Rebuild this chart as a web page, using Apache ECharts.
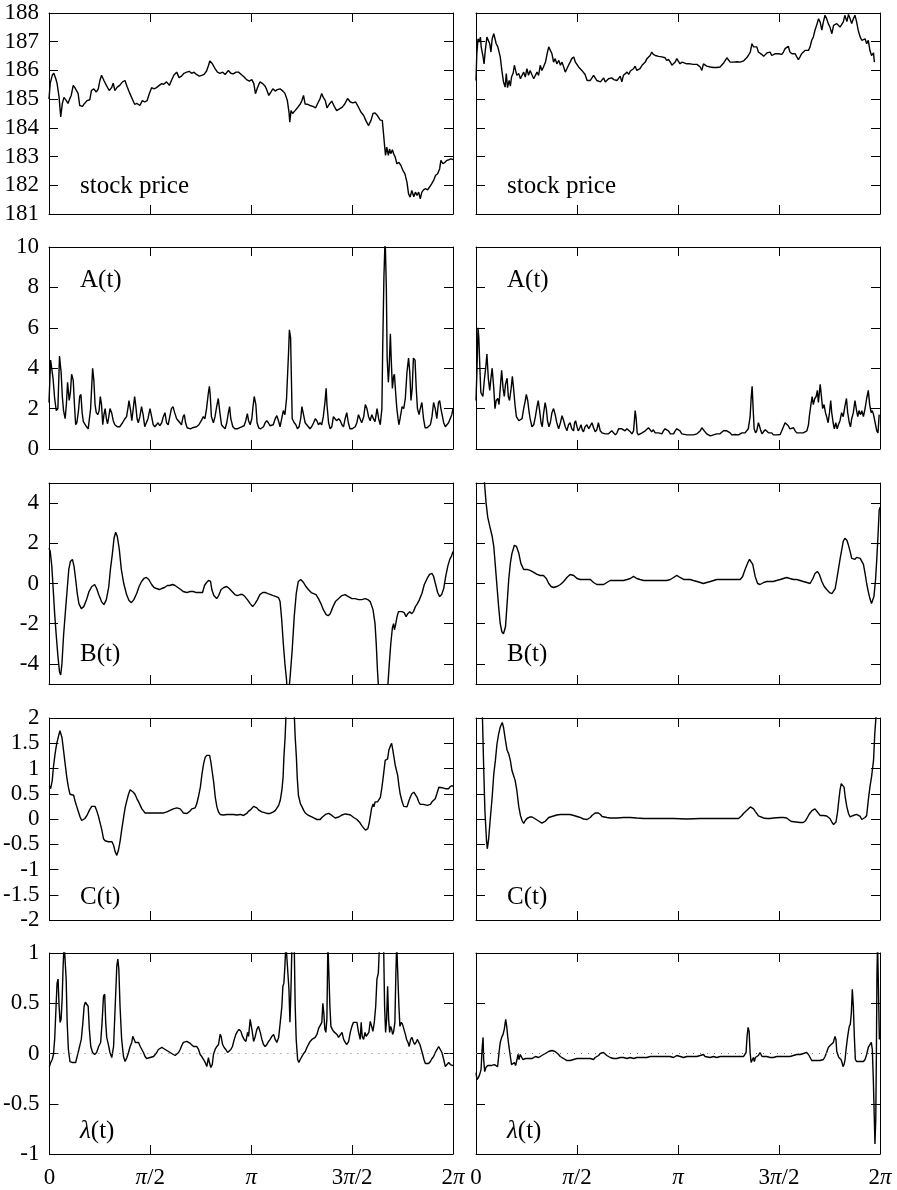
<!DOCTYPE html>
<html><head><meta charset="utf-8">
<script src="https://cdn.jsdelivr.net/npm/echarts@6/dist/echarts.min.js"></script>
<style>html,body{margin:0;padding:0;background:#fff}#c{width:897px;height:1190px}</style>
</head><body><div id="c"></div>
<script>
// x is measured in percent of the period 2π (0..100); tick labels below
const xTickLabels = ['0','{i|π}/2','{i|π}','3{i|π}/2','2{i|π}'];
const bTickValues = [-4,-2,0,2,4];

const stockLeft = [[0,185.0],[0.3,185.55],[0.8,185.83],[1.2,185.9],[1.7,185.7],[2.0,185.55],[2.5,185.06],[2.9,184.38],[3.3,184.85],[3.7,185.06],[4.3,184.95],[4.7,184.85],[5.1,185.0],[5.5,185.13],[6.0,185.48],[6.4,185.4],[6.8,185.42],[7.2,185.2],[7.6,184.78],[8.3,184.75],[8.8,184.85],[9.4,184.95],[10.1,184.98],[10.5,185.3],[11.1,185.36],[11.7,185.25],[12.2,185.36],[12.6,185.65],[13.0,185.83],[13.6,185.65],[14.2,185.48],[14.9,185.3],[15.5,185.4],[15.9,185.56],[16.3,185.3],[16.9,185.42],[17.5,185.48],[18.2,185.6],[18.8,185.65],[19.3,185.45],[20.0,185.2],[20.7,184.98],[21.2,184.82],[21.8,184.85],[22.5,184.78],[23.1,184.95],[23.7,184.9],[24.3,184.95],[24.8,185.18],[25.4,185.4],[26.0,185.36],[26.6,185.4],[27.3,185.48],[27.9,185.54],[28.4,185.52],[29.1,185.6],[29.8,185.48],[30.3,185.65],[30.9,185.83],[31.6,185.94],[32.2,185.75],[32.8,185.8],[33.4,185.9],[34.1,185.94],[34.7,185.97],[35.3,185.9],[35.9,185.94],[36.5,185.86],[37.2,185.8],[37.8,185.83],[38.4,185.86],[39.0,185.98],[39.5,186.18],[39.8,186.33],[40.4,186.24],[41.1,186.06],[41.7,185.94],[42.3,185.9],[43.0,185.94],[43.6,185.86],[44.4,186.0],[45.0,185.9],[45.6,185.88],[46.3,185.94],[46.9,185.94],[47.6,185.86],[48.3,185.77],[48.9,185.68],[49.6,185.63],[50.2,185.68],[50.7,185.54],[51.1,185.19],[51.6,185.4],[52.2,185.6],[52.9,185.54],[53.5,185.45],[53.9,185.33],[54.4,185.13],[54.9,185.24],[55.4,185.36],[56.0,185.28],[56.5,185.33],[57.2,185.36],[57.9,185.28],[58.4,185.2],[59.0,184.95],[59.4,184.55],[59.6,184.2],[59.9,184.6],[60.3,184.5],[60.9,184.6],[61.6,184.72],[62.2,184.83],[62.6,184.95],[63.0,185.13],[63.4,184.83],[64.0,184.82],[64.6,184.78],[65.3,184.75],[66.0,184.7],[66.5,184.85],[67.1,185.02],[67.5,185.2],[67.9,185.06],[68.4,184.95],[68.8,184.7],[69.4,184.83],[70.0,184.93],[70.6,184.75],[71.2,184.6],[71.9,184.66],[72.6,184.72],[73.2,184.83],[73.9,185.02],[74.6,184.9],[75.2,184.87],[75.9,184.9],[76.5,184.75],[77.2,184.55],[77.9,184.43],[78.4,184.26],[79.1,184.08],[79.7,184.26],[80.2,184.5],[80.7,184.52],[81.3,184.43],[82.0,184.27],[82.5,184.26],[82.8,183.8],[83.1,183.33],[83.3,183.04],[83.6,183.33],[84.0,183.04],[84.3,183.27],[84.6,183.1],[85.0,183.24],[85.3,183.1],[85.7,182.98],[86.1,182.75],[86.6,182.8],[87.1,182.69],[87.6,182.52],[88.1,182.4],[88.6,182.11],[89.0,181.7],[89.4,181.59],[89.8,181.82],[90.3,181.6],[90.7,181.76],[91.1,181.65],[91.5,181.76],[91.9,181.53],[92.3,181.76],[92.7,181.84],[93.2,181.88],[93.7,181.84],[94.2,181.94],[94.7,182.05],[95.2,182.17],[95.7,182.35],[96.2,182.4],[96.7,182.58],[97.0,182.87],[97.5,182.75],[98.0,182.8],[98.5,182.87],[99.0,182.89],[99.5,182.92],[100,182.89]];

const stockRight = [[0,185.65],[0.2,186.58],[0.5,187.1],[0.8,186.99],[1.1,187.16],[1.3,186.8],[1.7,186.52],[2.0,186.23],[2.3,186.7],[2.7,187.16],[3.1,187.22],[3.4,186.93],[3.7,186.64],[4.0,187.1],[4.4,187.28],[4.7,187.34],[5.0,186.93],[5.4,186.82],[5.7,186.76],[6.0,186.47],[6.4,186.0],[6.8,185.6],[7.2,185.42],[7.5,185.89],[7.8,185.4],[8.2,185.65],[8.5,185.45],[8.8,185.77],[9.2,185.91],[9.5,186.18],[9.8,186.0],[10.1,185.83],[10.6,185.89],[11.0,185.71],[11.4,185.83],[11.8,185.94],[12.2,185.77],[12.6,186.06],[13.0,185.83],[13.4,186.0],[13.9,185.83],[14.3,185.71],[14.7,185.83],[15.1,185.94],[15.5,185.83],[15.9,186.18],[16.3,186.0],[16.7,186.12],[17.2,186.29],[17.6,186.58],[18.0,186.82],[18.4,186.87],[18.8,186.58],[19.2,186.29],[19.6,186.41],[20.0,186.23],[20.5,186.35],[20.9,186.18],[21.3,186.29],[21.7,186.12],[22.1,185.94],[22.5,186.06],[22.9,186.18],[23.3,186.29],[23.7,186.41],[24.2,186.47],[24.6,186.29],[25.0,186.23],[25.4,186.12],[25.8,186.12],[26.2,186.0],[26.6,185.98],[27.0,185.86],[27.5,185.65],[27.9,185.6],[28.3,185.65],[28.7,185.68],[29.1,185.83],[29.5,185.89],[29.9,185.65],[30.3,185.71],[30.8,185.6],[31.2,185.65],[31.6,185.74],[32.0,185.6],[32.4,185.57],[32.8,185.71],[33.2,185.65],[33.6,185.74],[34.1,185.68],[34.5,185.71],[34.9,185.65],[35.3,185.68],[35.7,185.8],[36.1,185.6],[36.5,185.83],[36.9,185.8],[37.4,185.94],[37.8,185.86],[38.2,185.98],[38.6,185.94],[39.0,186.06],[39.4,186.15],[39.8,186.0],[40.2,186.06],[40.6,186.06],[41.1,186.18],[41.5,186.23],[41.9,186.29],[42.3,186.41],[42.7,186.41],[43.1,186.52],[43.5,186.64],[43.9,186.56],[44.4,186.52],[44.8,186.56],[45.2,186.49],[45.6,186.52],[46.0,186.47],[46.4,186.41],[46.8,186.44],[47.2,186.35],[47.7,186.38],[48.1,186.29],[48.5,186.18],[48.9,186.23],[49.3,186.29],[49.7,186.41],[50.1,186.41],[50.5,186.23],[51.0,186.29],[51.4,186.23],[52.2,186.23],[53.0,186.23],[53.8,186.21],[54.7,186.21],[55.1,186.18],[55.5,186.12],[55.9,186.0],[56.3,186.23],[56.7,186.18],[57.1,186.15],[58.0,186.12],[58.8,186.1],[59.6,186.1],[60.4,186.12],[60.8,186.18],[61.3,186.26],[61.7,186.35],[62.1,186.44],[62.5,186.44],[62.9,186.29],[63.7,186.29],[64.6,186.3],[65.4,186.29],[66.2,186.33],[66.6,186.29],[67.0,186.44],[67.4,186.52],[67.9,186.64],[68.3,186.93],[68.7,186.82],[69.1,186.76],[69.5,186.82],[69.9,186.64],[70.3,186.7],[70.7,186.56],[71.2,186.49],[71.6,186.52],[72.0,186.61],[72.4,186.64],[72.8,186.64],[73.2,186.52],[73.6,186.56],[74.0,186.58],[74.4,186.52],[74.9,186.58],[75.3,186.61],[75.7,186.56],[76.1,186.64],[76.5,186.76],[76.9,186.82],[77.3,186.84],[77.7,186.64],[78.2,186.58],[78.6,186.52],[79.0,186.58],[79.4,186.47],[79.8,186.38],[80.2,186.47],[80.6,186.58],[81.0,186.64],[81.5,186.7],[81.9,186.76],[82.3,186.7],[82.7,186.82],[83.1,187.05],[83.5,187.16],[83.9,187.4],[84.3,187.57],[84.8,187.8],[85.2,187.68],[85.6,187.4],[86.0,187.7],[86.4,187.92],[86.8,187.8],[87.2,187.63],[87.6,187.51],[88.1,187.28],[88.5,187.57],[88.9,187.51],[89.3,187.63],[89.7,187.57],[90.1,187.51],[90.5,187.57],[90.9,187.68],[91.3,187.92],[91.8,187.7],[92.2,187.95],[92.6,187.8],[93.0,187.63],[93.4,187.8],[93.8,187.92],[94.2,187.7],[94.6,187.4],[95.1,187.16],[95.5,187.05],[95.9,186.99],[96.3,187.1],[96.7,186.93],[97.1,187.05],[97.5,186.7],[97.9,186.52],[98.4,186.61],[98.6,186.29]];

const aLeft = [[0,2.3],[0.4,4.4],[0.7,4.4],[1.0,3.5],[1.4,2.5],[1.8,1.9],[2.2,2.0],[2.6,4.6],[3.0,3.8],[3.3,2.6],[3.6,1.9],[4.0,1.5],[4.3,2.2],[4.6,3.3],[5.0,2.4],[5.3,2.8],[5.6,3.7],[6.0,3.4],[6.3,2.2],[6.6,1.2],[6.9,1.3],[7.3,1.9],[7.6,2.6],[7.9,2.7],[8.2,1.8],[8.5,1.35],[8.8,1.3],[9.3,1.1],[9.7,1.0],[10.1,1.05],[10.3,2.0],[10.6,3.2],[10.8,4.0],[11.1,3.4],[11.4,2.2],[11.7,1.8],[12.1,1.7],[12.4,1.9],[12.7,2.6],[13.0,2.2],[13.3,1.2],[13.6,1.7],[13.9,2.0],[14.2,1.5],[14.5,1.25],[14.8,1.6],[15.1,2.0],[15.5,1.8],[15.9,1.4],[16.3,1.2],[16.9,1.1],[17.5,1.1],[18.2,1.3],[18.8,1.5],[19.2,1.6],[19.6,2.1],[19.8,2.4],[20.2,1.9],[20.5,1.4],[20.8,1.9],[21.2,2.6],[21.5,2.1],[21.8,1.5],[22.1,1.3],[22.5,1.6],[22.9,2.1],[23.3,1.7],[23.7,1.1],[24.1,1.1],[24.5,1.5],[25.0,2.0],[25.4,1.6],[25.8,1.2],[26.2,1.1],[26.6,1.2],[27.0,1.3],[27.4,1.15],[27.9,1.3],[28.3,1.6],[28.7,1.8],[29.1,1.3],[29.5,1.2],[29.9,1.6],[30.3,2.0],[30.7,2.1],[31.1,1.8],[31.6,1.5],[32.0,1.45],[32.4,1.3],[32.8,1.2],[33.2,1.6],[33.5,1.7],[33.8,1.3],[34.2,1.05],[34.6,1.1],[35.0,1.0],[35.5,1.05],[35.9,1.1],[36.5,1.1],[37.1,1.2],[37.7,1.4],[38.2,1.6],[38.6,1.5],[39.0,2.0],[39.4,2.7],[39.7,3.1],[39.9,2.7],[40.2,1.6],[40.7,1.3],[41.1,1.6],[41.5,2.1],[41.9,2.5],[42.3,1.8],[42.7,1.2],[43.1,1.1],[43.6,1.0],[44.0,1.3],[44.4,1.8],[44.7,2.1],[45.0,1.5],[45.5,1.1],[46.0,1.0],[46.6,1.0],[47.1,1.05],[47.7,1.1],[48.3,1.15],[48.7,1.4],[49.1,1.75],[49.4,1.4],[49.8,1.2],[50.2,1.5],[50.5,2.1],[50.8,2.6],[51.2,2.2],[51.5,1.3],[51.9,1.05],[52.4,1.0],[53.1,1.1],[53.5,1.3],[53.9,1.4],[54.3,1.3],[54.7,1.15],[55.1,1.1],[55.5,1.2],[56.0,1.5],[56.4,1.65],[56.8,1.4],[57.2,1.1],[57.6,1.5],[58.0,1.9],[58.4,1.7],[58.8,2.5],[59.3,4.8],[59.5,5.9],[59.8,5.5],[60.0,3.5],[60.2,1.5],[60.7,1.3],[61.1,1.2],[61.5,1.0],[61.9,1.1],[62.3,1.5],[62.6,2.1],[63.0,1.7],[63.4,1.3],[63.8,1.2],[64.2,1.1],[64.6,1.0],[65.0,1.1],[65.5,1.3],[65.9,1.5],[66.3,1.4],[66.7,1.2],[67.1,1.3],[67.5,1.2],[67.9,1.6],[68.3,2.3],[68.6,3.0],[68.8,2.2],[69.2,1.3],[69.6,1.0],[70.0,1.1],[70.4,1.6],[70.8,1.5],[71.2,1.4],[71.7,1.5],[72.1,1.4],[72.5,1.2],[72.9,1.1],[73.3,1.5],[73.7,1.8],[74.1,1.3],[74.5,1.0],[75.0,1.0],[75.4,1.05],[75.8,1.1],[76.2,1.3],[76.6,1.7],[77.0,1.5],[77.4,1.3],[77.9,1.6],[78.3,2.2],[78.7,2.0],[79.1,1.6],[79.5,1.4],[79.9,1.7],[80.3,1.5],[80.7,1.35],[81.2,2.0],[81.6,1.5],[82.0,1.2],[82.4,2.0],[82.6,5.0],[82.9,8.5],[83.2,10.5],[83.5,8.0],[83.7,4.5],[84.0,3.3],[84.2,4.0],[84.5,5.7],[84.7,4.5],[85.0,3.0],[85.3,3.6],[85.5,3.7],[85.8,2.8],[86.1,2.0],[86.4,1.5],[86.6,1.2],[86.9,1.5],[87.4,2.1],[87.8,2.0],[88.2,2.5],[88.6,3.8],[89.0,4.5],[89.3,3.8],[89.6,2.4],[89.9,3.0],[90.2,4.5],[90.6,4.4],[90.9,3.0],[91.2,2.0],[91.6,1.7],[91.9,2.0],[92.3,2.3],[92.7,1.5],[93.1,1.05],[93.6,1.05],[94.0,1.1],[94.4,1.2],[94.8,1.6],[95.2,2.3],[95.6,2.0],[96.0,1.5],[96.4,2.3],[96.7,2.4],[97.0,2.0],[97.4,1.6],[97.7,1.3],[98.1,1.1],[98.5,1.15],[98.9,1.3],[99.3,1.5],[99.7,1.7],[100,2.0]];

const aRight = [[0,2.4],[0.25,4.0],[0.5,6.0],[0.7,5.5],[1.0,3.8],[1.2,2.8],[1.7,2.6],[2.1,3.5],[2.4,4.0],[2.7,4.7],[3.05,3.5],[3.4,2.9],[3.7,3.5],[4.0,4.0],[4.4,3.0],[4.7,2.0],[5.0,2.4],[5.4,2.5],[5.7,2.2],[6.0,3.0],[6.35,3.9],[6.7,3.0],[7.0,2.6],[7.3,3.2],[7.7,3.5],[8.0,2.6],[8.3,2.4],[8.7,3.0],[9.0,3.6],[9.3,3.0],[9.65,2.2],[10.0,1.6],[10.3,1.5],[10.6,1.4],[11.0,1.35],[11.4,1.5],[11.8,2.0],[12.2,2.4],[12.45,2.7],[12.8,2.4],[13.1,1.9],[13.4,1.5],[13.85,1.1],[14.3,1.2],[14.7,1.6],[15.1,2.1],[15.4,2.4],[15.75,1.9],[16.1,1.3],[16.4,1.1],[16.7,1.7],[17.1,2.3],[17.4,2.0],[17.7,1.4],[18.05,1.1],[18.4,1.3],[18.8,1.8],[19.2,2.0],[19.6,1.7],[20.0,1.3],[20.45,1.0],[20.9,1.3],[21.3,1.65],[21.7,1.4],[22.1,1.1],[22.5,0.9],[22.9,1.2],[23.3,1.3],[23.7,1.0],[24.15,0.9],[24.4,1.3],[24.65,1.4],[25.0,1.1],[25.3,0.9],[25.6,1.0],[26.0,1.2],[26.3,0.95],[26.6,0.85],[27.0,1.1],[27.45,1.2],[27.9,1.0],[28.3,1.05],[28.7,1.3],[29.1,1.05],[29.5,0.85],[29.9,0.95],[30.3,1.3],[30.75,0.9],[31.2,0.8],[31.6,0.85],[32.0,0.75],[32.4,0.8],[32.8,0.75],[33.2,0.8],[33.6,0.9],[34.05,0.85],[34.5,0.7],[34.9,0.8],[35.3,1.0],[35.7,0.95],[36.1,1.0],[36.5,1.05],[36.9,0.9],[37.35,1.0],[37.8,0.95],[38.2,0.85],[38.6,0.75],[39.0,0.9],[39.4,1.9],[39.65,1.5],[39.9,0.8],[40.2,0.7],[40.6,0.75],[41.1,0.8],[41.5,0.85],[41.9,0.9],[42.3,0.85],[42.7,1.05],[43.1,1.0],[43.5,0.85],[43.9,0.95],[44.35,0.8],[44.8,0.75],[45.2,0.8],[45.6,0.85],[46.0,0.75],[46.4,0.9],[46.8,1.0],[47.2,1.05],[47.65,0.9],[48.1,0.75],[48.5,0.7],[48.9,0.75],[49.3,0.9],[49.7,1.0],[50.1,1.0],[50.5,0.9],[50.95,0.75],[51.4,0.7],[52.2,0.7],[53.0,0.7],[53.8,0.7],[54.7,0.75],[55.1,0.8],[55.5,0.9],[55.9,1.05],[56.3,1.0],[56.7,0.85],[57.1,0.75],[57.5,0.7],[58.0,0.65],[58.4,0.65],[58.8,0.7],[59.2,0.7],[59.6,0.75],[60.0,0.7],[60.4,0.75],[60.8,0.8],[61.25,0.9],[61.7,0.85],[62.1,0.9],[62.5,0.95],[62.9,0.8],[63.3,0.7],[63.7,0.75],[64.1,0.72],[64.55,0.72],[65.0,0.7],[65.4,0.72],[65.8,0.8],[66.2,0.85],[66.6,0.8],[67.0,0.85],[67.4,1.0],[67.85,1.6],[68.1,2.5],[68.35,3.1],[68.6,2.0],[68.85,1.0],[69.2,0.8],[69.5,0.9],[69.9,1.3],[70.15,1.15],[70.5,0.9],[70.8,0.75],[71.15,0.85],[71.6,0.95],[72.0,1.0],[72.4,0.8],[72.8,0.75],[73.2,0.8],[73.6,0.7],[74.4,0.7],[75.3,0.72],[75.7,0.8],[76.1,1.1],[76.5,1.3],[76.9,1.25],[77.3,1.15],[77.7,1.0],[78.15,0.95],[78.6,1.05],[79.0,0.9],[79.4,0.8],[80.2,0.8],[81.0,0.8],[81.45,0.85],[81.9,0.9],[82.3,1.2],[82.5,1.6],[82.9,2.2],[83.2,2.6],[83.5,2.2],[83.85,2.5],[84.2,2.6],[84.5,2.9],[84.75,2.3],[85.2,3.2],[85.5,2.6],[85.8,2.0],[86.15,2.2],[86.5,1.8],[86.8,1.6],[87.15,1.3],[87.5,1.8],[87.8,2.4],[88.05,1.8],[88.4,1.3],[88.7,1.0],[89.05,1.3],[89.4,1.0],[89.7,1.2],[90.1,1.4],[90.5,1.8],[90.9,1.6],[91.3,2.1],[91.7,2.5],[92.0,1.8],[92.4,1.3],[92.7,1.1],[93.0,1.5],[93.4,1.8],[93.8,2.4],[94.2,1.9],[94.5,1.6],[94.8,1.9],[95.2,1.7],[95.5,1.9],[95.9,1.6],[96.3,2.0],[96.7,2.5],[97.1,2.9],[97.45,2.2],[97.8,1.8],[98.1,1.9],[98.4,1.7],[98.8,1.3],[99.2,0.9],[99.5,0.8],[99.8,1.7]];

const bLeft = [[0,1.75],[0.3,1.6],[0.7,0.85],[1.0,-0.15],[1.4,-1.5],[1.8,-2.6],[2.2,-3.6],[2.6,-4.4],[2.9,-4.55],[3.2,-4.0],[3.6,-2.6],[4.1,-1.3],[4.5,-0.3],[4.9,0.7],[5.3,1.1],[5.8,1.2],[6.2,0.85],[6.6,0.2],[7.0,-0.5],[7.4,-1.0],[8.0,-1.25],[8.6,-1.15],[9.3,-0.8],[9.9,-0.4],[10.6,-0.15],[11.3,-0.05],[11.8,-0.25],[12.3,-0.55],[13.0,-0.9],[13.6,-1.05],[14.2,-0.8],[14.8,-0.15],[15.2,0.7],[15.7,1.5],[16.1,2.25],[16.5,2.55],[16.9,2.35],[17.4,1.7],[17.9,0.7],[18.5,0.0],[19.2,-0.55],[19.8,-0.85],[20.4,-0.95],[21.0,-0.8],[21.7,-0.5],[22.3,-0.15],[22.9,0.1],[23.5,0.25],[24.1,0.3],[24.7,0.2],[25.4,-0.05],[26.0,-0.2],[26.6,-0.25],[27.3,-0.3],[27.9,-0.25],[28.6,-0.2],[29.3,-0.1],[29.9,-0.1],[30.6,-0.05],[31.2,-0.1],[31.9,-0.2],[32.6,-0.3],[33.2,-0.4],[34.1,-0.45],[34.9,-0.4],[35.7,-0.4],[36.5,-0.45],[37.4,-0.45],[38.0,-0.45],[38.5,-0.1],[39.0,0.05],[39.5,0.15],[40.0,0.1],[40.3,-0.3],[40.8,-0.6],[41.5,-0.75],[42.0,-0.6],[42.6,-0.3],[43.3,-0.2],[44.0,-0.15],[44.6,-0.25],[45.3,-0.4],[46.0,-0.55],[46.6,-0.6],[47.3,-0.55],[47.9,-0.55],[48.5,-0.65],[49.1,-0.8],[49.8,-1.0],[50.4,-1.15],[51.0,-1.0],[51.6,-0.8],[52.2,-0.55],[52.9,-0.45],[53.6,-0.45],[54.2,-0.5],[54.9,-0.55],[55.5,-0.6],[56.2,-0.65],[56.8,-0.7],[57.2,-0.9],[57.6,-1.8],[58.0,-3.0],[58.4,-4.0],[58.8,-4.8],[59.0,-5.6],[59.3,-5.5],[59.7,-4.6],[60.2,-3.3],[60.7,-1.65],[61.2,-0.5],[61.7,0.1],[62.3,0.2],[63.0,0.05],[63.6,-0.15],[64.2,-0.3],[64.9,-0.45],[65.5,-0.5],[66.1,-0.55],[66.7,-0.75],[67.3,-1.0],[67.9,-1.3],[68.6,-1.55],[69.1,-1.6],[69.6,-1.5],[70.3,-1.15],[70.9,-0.9],[71.7,-0.75],[72.5,-0.6],[73.3,-0.55],[74.1,-0.65],[75.0,-0.75],[75.8,-0.75],[76.6,-0.8],[77.4,-0.8],[78.3,-0.75],[78.9,-0.8],[79.5,-0.9],[80.2,-1.3],[80.7,-2.0],[81.0,-3.0],[81.3,-4.3],[81.6,-5.3],[82.4,-6.5],[83.5,-6.5],[83.9,-5.0],[84.3,-3.8],[84.6,-3.0],[85.0,-2.2],[85.3,-2.0],[85.5,-2.3],[85.8,-2.05],[86.1,-1.7],[86.5,-1.4],[86.9,-1.35],[87.4,-1.4],[87.9,-1.45],[88.4,-1.65],[88.8,-1.5],[89.3,-1.4],[89.8,-1.5],[90.2,-1.4],[90.7,-1.15],[91.2,-1.0],[91.7,-0.8],[92.3,-0.5],[92.9,-0.05],[93.6,0.25],[94.2,0.45],[94.8,0.5],[95.2,0.35],[95.7,-0.05],[96.2,-0.45],[96.7,-0.65],[97.2,-0.55],[97.7,-0.25],[98.2,0.35],[98.7,0.85],[99.2,1.2],[99.6,1.35],[100,1.6]];

const bRight = [[0,8],[1.7,6],[2.1,5.0],[2.5,4.0],[2.9,3.3],[3.4,2.85],[4.0,2.35],[4.4,1.85],[4.8,0.85],[5.2,-0.15],[5.6,-1.15],[6.0,-2.0],[6.4,-2.4],[6.8,-2.5],[7.3,-2.15],[7.7,-1.0],[8.1,0.2],[8.5,1.0],[8.9,1.5],[9.5,1.9],[10.0,1.85],[10.6,1.5],[11.1,1.0],[11.8,0.7],[12.6,0.7],[13.4,0.65],[14.3,0.55],[15.1,0.45],[15.9,0.4],[16.7,0.4],[17.4,0.25],[18.0,0.0],[18.6,-0.15],[19.2,-0.2],[20.0,-0.15],[20.9,-0.05],[21.7,0.1],[22.5,0.3],[23.3,0.45],[24.2,0.4],[25.0,0.25],[25.8,0.2],[26.6,0.2],[27.5,0.2],[28.3,0.2],[29.1,0.05],[29.9,-0.05],[30.8,-0.05],[31.6,-0.05],[32.4,0.05],[33.2,0.15],[34.1,0.15],[34.9,0.15],[35.7,0.15],[36.5,0.15],[37.4,0.2],[38.2,0.25],[39.0,0.35],[39.8,0.25],[40.6,0.2],[41.5,0.15],[42.3,0.15],[43.1,0.15],[43.9,0.15],[44.8,0.15],[45.6,0.15],[46.4,0.15],[47.2,0.15],[48.1,0.2],[48.9,0.3],[49.7,0.4],[50.5,0.3],[51.4,0.2],[52.2,0.2],[53.0,0.2],[53.8,0.15],[54.7,0.1],[55.5,0.05],[56.3,0.0],[57.1,0.05],[58.0,0.1],[58.8,0.15],[59.6,0.2],[60.4,0.2],[61.3,0.2],[62.1,0.2],[62.9,0.2],[63.7,0.2],[64.6,0.2],[65.4,0.2],[66.0,0.35],[66.6,0.7],[67.2,1.0],[67.7,1.2],[68.1,1.25],[68.5,0.95],[69.1,0.35],[69.7,0.0],[70.3,-0.05],[71.2,0.05],[72.0,0.1],[72.8,0.1],[73.6,0.1],[74.4,0.15],[75.3,0.2],[76.1,0.25],[76.9,0.3],[77.7,0.25],[78.6,0.2],[79.4,0.2],[80.2,0.15],[81.0,0.1],[81.9,0.05],[82.3,0.0],[82.7,0.0],[83.4,0.25],[83.9,0.5],[84.5,0.6],[85.0,0.45],[85.6,0.1],[86.2,-0.15],[86.8,-0.3],[87.5,-0.45],[88.1,-0.5],[88.5,-0.45],[88.9,-0.25],[89.3,0.2],[89.7,0.7],[90.1,1.2],[90.5,1.65],[90.9,2.1],[91.3,2.25],[91.8,2.15],[92.2,1.9],[92.6,1.6],[93.0,1.25],[93.4,1.2],[93.8,1.2],[94.2,1.3],[94.6,1.3],[95.1,1.25],[95.5,1.2],[95.9,0.95],[96.3,0.5],[96.7,0.0],[97.1,-0.4],[97.5,-0.75],[97.9,-1.0],[98.2,-1.05],[98.5,-0.65],[98.9,0.2],[99.2,1.2],[99.5,2.35],[99.8,3.65],[100,3.8]];

const cLeft = [[0,0.66],[0.3,0.6],[0.7,0.76],[1.0,1.03],[1.4,1.29],[1.8,1.49],[2.2,1.62],[2.6,1.75],[2.9,1.76],[3.1,1.62],[3.5,1.36],[3.9,1.09],[4.3,0.83],[4.7,0.63],[5.1,0.49],[5.5,0.5],[6.0,0.47],[6.4,0.34],[6.8,0.24],[7.2,0.14],[7.6,0.04],[8.0,-0.03],[8.4,-0.03],[8.8,0.01],[9.3,0.07],[9.7,0.14],[10.1,0.2],[10.5,0.25],[10.9,0.27],[11.3,0.25],[11.7,0.17],[12.2,0.04],[12.6,-0.09],[13.0,-0.22],[13.4,-0.39],[13.8,-0.43],[14.2,-0.42],[14.6,-0.45],[15.0,-0.42],[15.5,-0.45],[15.9,-0.52],[16.3,-0.65],[16.7,-0.72],[17.1,-0.62],[17.5,-0.45],[17.9,-0.22],[18.4,0.04],[18.8,0.24],[19.2,0.37],[19.6,0.49],[20.0,0.58],[20.4,0.58],[20.8,0.53],[21.2,0.49],[21.7,0.4],[22.1,0.34],[22.5,0.27],[22.9,0.2],[23.3,0.16],[23.7,0.12],[24.1,0.12],[26.6,0.12],[28.3,0.12],[29.1,0.14],[29.9,0.17],[30.7,0.2],[31.6,0.22],[32.0,0.22],[32.4,0.2],[32.8,0.16],[33.2,0.12],[33.6,0.11],[34.1,0.11],[34.5,0.12],[34.9,0.16],[35.3,0.2],[35.7,0.2],[36.1,0.22],[36.5,0.3],[36.9,0.43],[37.4,0.63],[37.8,0.89],[38.2,1.09],[38.6,1.22],[39.0,1.26],[39.3,1.29],[39.7,1.26],[40.0,1.13],[40.3,0.96],[40.7,0.73],[41.1,0.43],[41.5,0.24],[41.9,0.14],[42.3,0.09],[42.7,0.07],[43.1,0.08],[44.0,0.09],[45.6,0.09],[46.4,0.08],[47.3,0.09],[48.1,0.07],[48.5,0.07],[48.9,0.11],[49.3,0.15],[49.8,0.18],[50.2,0.21],[50.6,0.25],[51.0,0.25],[51.4,0.22],[51.8,0.18],[52.2,0.16],[52.6,0.14],[53.1,0.13],[53.5,0.12],[53.9,0.11],[54.7,0.11],[55.1,0.12],[55.5,0.14],[56.0,0.17],[56.4,0.22],[56.8,0.27],[57.2,0.37],[57.6,0.57],[57.9,0.83],[58.1,1.22],[58.4,1.62],[58.6,2.01],[58.8,2.3],[59.7,2.3],[60.3,2.14],[60.7,2.01],[60.9,1.62],[61.2,1.22],[61.4,0.83],[61.7,0.47],[62.2,0.3],[62.6,0.24],[63.0,0.17],[63.4,0.12],[63.8,0.09],[64.2,0.07],[64.6,0.06],[65.0,0.04],[65.5,0.02],[65.9,0.01],[66.3,-0.01],[66.7,-0.03],[67.1,-0.01],[67.5,0.03],[67.9,0.05],[68.4,0.09],[68.8,0.11],[69.2,0.11],[69.6,0.09],[70.0,0.07],[70.4,0.04],[70.8,0.02],[71.2,0.03],[71.7,0.04],[72.1,0.07],[72.5,0.08],[72.9,0.09],[73.3,0.1],[73.7,0.1],[74.1,0.09],[74.6,0.08],[75.0,0.05],[75.4,0.03],[75.8,0.01],[76.2,-0.01],[76.6,-0.04],[77.0,-0.08],[77.4,-0.13],[77.9,-0.18],[78.3,-0.22],[78.7,-0.24],[78.9,-0.19],[79.2,-0.09],[79.5,0.04],[79.8,0.2],[80.2,0.3],[80.4,0.24],[80.7,0.34],[81.0,0.37],[81.3,0.34],[81.7,0.37],[82.0,0.43],[82.4,0.63],[82.8,0.89],[83.2,1.16],[83.5,1.14],[83.8,1.19],[84.1,1.36],[84.5,1.45],[84.8,1.5],[85.1,1.36],[85.5,1.16],[85.7,1.06],[86.0,1.03],[86.3,0.86],[86.6,0.66],[86.9,0.5],[87.4,0.34],[87.8,0.25],[88.2,0.22],[88.6,0.24],[89.0,0.34],[89.4,0.43],[89.8,0.5],[90.3,0.53],[90.7,0.51],[91.1,0.43],[91.5,0.34],[91.9,0.29],[92.3,0.27],[92.7,0.29],[93.1,0.29],[93.6,0.27],[94.0,0.27],[94.4,0.29],[94.8,0.34],[95.2,0.37],[95.6,0.4],[96.0,0.5],[96.5,0.63],[96.9,0.66],[97.3,0.62],[97.7,0.6],[98.1,0.6],[98.5,0.58],[98.9,0.6],[99.3,0.64],[99.8,0.66],[100,0.64]];

const cRight = [[0,2.5],[1.2,2.3],[1.6,2.0],[1.9,1.03],[2.2,0.17],[2.6,-0.42],[2.8,-0.59],[3.1,-0.42],[3.5,-0.03],[4.0,0.43],[4.4,0.89],[4.8,1.16],[5.2,1.49],[5.6,1.68],[6.0,1.82],[6.5,1.91],[6.8,1.82],[7.3,1.55],[7.7,1.36],[8.1,1.29],[8.5,1.16],[8.9,0.96],[9.3,0.86],[9.7,0.76],[10.1,0.57],[10.6,0.24],[11.0,0.07],[11.4,-0.03],[11.8,-0.09],[12.2,-0.03],[12.6,0.01],[13.0,0.03],[13.4,0.04],[13.9,0.04],[14.3,0.02],[14.7,0.0],[15.1,-0.01],[15.5,-0.04],[15.9,-0.06],[16.3,-0.08],[16.7,-0.06],[17.2,-0.04],[17.6,-0.01],[18.0,0.03],[18.4,0.05],[18.8,0.05],[19.2,0.07],[20.0,0.08],[20.9,0.09],[21.7,0.09],[22.5,0.09],[23.3,0.09],[24.2,0.07],[25.0,0.05],[25.8,0.03],[26.6,0.0],[27.5,-0.01],[27.9,-0.01],[28.3,0.03],[28.7,0.07],[29.1,0.09],[29.5,0.12],[29.9,0.12],[30.3,0.12],[30.8,0.09],[31.2,0.05],[31.6,0.04],[32.4,0.03],[33.2,0.02],[34.9,0.02],[36.5,0.03],[38.2,0.03],[39.8,0.02],[41.5,0.01],[45.6,0.01],[48.9,0.01],[52.2,0.0],[55.5,0.01],[60.4,0.01],[65.0,0.01],[65.4,0.04],[65.8,0.07],[66.2,0.11],[66.6,0.14],[67.0,0.17],[67.4,0.2],[67.9,0.24],[68.3,0.25],[68.7,0.2],[69.1,0.15],[69.5,0.11],[69.9,0.06],[70.3,0.03],[71.2,0.02],[72.0,0.01],[72.8,0.01],[73.6,0.02],[75.3,0.03],[76.1,0.03],[76.9,0.02],[77.3,0.0],[77.7,-0.03],[78.2,-0.05],[78.6,-0.07],[80.2,-0.07],[81.0,-0.07],[81.5,-0.04],[81.9,0.01],[82.3,0.07],[82.7,0.12],[83.1,0.16],[83.5,0.18],[83.9,0.2],[84.3,0.17],[84.8,0.11],[85.2,0.07],[86.0,0.07],[86.8,0.06],[87.2,0.04],[87.6,0.01],[88.1,-0.06],[88.5,-0.11],[88.9,-0.12],[89.1,-0.06],[89.5,0.14],[89.8,0.37],[90.1,0.57],[90.4,0.7],[90.8,0.71],[91.1,0.63],[91.4,0.43],[91.8,0.24],[92.2,0.11],[92.6,0.04],[93.0,0.01],[93.4,0.07],[93.8,0.05],[94.2,0.09],[94.6,0.12],[95.1,0.05],[95.5,-0.01],[95.9,0.01],[96.3,0.03],[96.7,0.07],[97.1,0.37],[97.5,0.63],[97.9,0.83],[98.4,1.16],[98.7,1.68],[99.0,2.01],[99.3,2.2],[100,2.3]];

const lamLeft = [[0,-0.13],[0.3,-0.09],[0.7,-0.06],[1.0,-0.01],[1.3,0.14],[1.65,0.47],[1.9,0.70],[2.15,0.74],[2.4,0.47],[2.65,0.31],[2.9,0.34],[3.15,0.54],[3.4,0.87],[3.65,1.1],[3.9,1.1],[4.15,0.74],[4.4,0.31],[4.7,0.04],[5.1,-0.08],[5.8,-0.09],[6.5,-0.09],[6.9,-0.08],[7.3,0.04],[7.6,0.09],[7.9,0.14],[8.3,0.31],[8.6,0.47],[8.9,0.51],[9.3,0.52],[9.6,0.47],[9.9,0.24],[10.25,0.07],[10.7,0.01],[11.2,-0.01],[11.7,0.01],[12.2,0.07],[12.7,0.11],[13.05,0.31],[13.4,0.57],[13.7,0.59],[13.95,0.31],[14.2,0.16],[14.6,0.09],[15.0,0.01],[15.45,-0.04],[15.9,0.07],[16.3,0.47],[16.7,0.87],[16.95,0.94],[17.2,0.84],[17.5,0.47],[17.9,0.14],[18.35,-0.03],[18.75,-0.08],[19.2,-0.04],[19.6,0.01],[20.0,0.07],[20.4,0.11],[20.65,0.17],[21.0,0.14],[21.3,0.11],[21.65,0.12],[22.1,0.11],[22.5,0.07],[22.9,0.04],[23.3,0.01],[23.7,-0.03],[24.1,-0.05],[24.55,-0.04],[24.95,-0.04],[25.4,-0.05],[25.8,-0.03],[26.2,-0.01],[26.6,0.01],[27.0,0.04],[27.45,0.05],[27.85,0.06],[28.25,0.05],[28.7,0.04],[29.1,0.03],[29.5,0.02],[29.9,0.01],[30.3,0.0],[30.75,-0.01],[31.15,-0.02],[31.55,-0.01],[32.0,0.01],[32.4,0.04],[32.8,0.08],[33.2,0.11],[33.65,0.12],[34.05,0.12],[34.45,0.11],[34.9,0.10],[35.3,0.09],[35.7,0.07],[36.1,0.08],[36.5,0.07],[36.95,0.04],[37.35,-0.01],[37.75,-0.03],[38.2,-0.06],[38.6,-0.09],[39.0,-0.13],[39.4,-0.04],[39.65,-0.09],[40.0,-0.14],[40.35,-0.11],[40.65,-0.01],[41.05,0.04],[41.5,0.07],[41.9,0.09],[42.3,0.19],[42.55,0.17],[42.9,0.09],[43.3,0.06],[43.7,0.04],[44.15,0.01],[44.55,0.01],[44.95,0.04],[45.35,0.07],[45.8,0.14],[46.2,0.19],[46.6,0.22],[47.0,0.24],[47.45,0.22],[47.85,0.17],[48.25,0.14],[48.7,0.12],[49.1,0.21],[49.35,0.17],[49.75,0.34],[50.0,0.35],[50.25,0.22],[50.6,0.12],[51.0,0.17],[51.4,0.24],[51.8,0.27],[52.25,0.21],[52.65,0.14],[53.05,0.09],[53.45,0.07],[53.9,0.09],[54.3,0.12],[54.7,0.14],[55.1,0.17],[55.55,0.19],[55.95,0.14],[56.35,0.11],[56.8,0.16],[57.2,0.31],[57.6,0.47],[57.85,0.67],[58.1,0.70],[58.35,0.87],[58.6,1.1],[59.0,1.1],[59.35,0.64],[59.6,0.31],[59.85,0.64],[60.1,1.1],[60.65,1.1],[60.9,0.47],[61.15,0.14],[61.5,-0.06],[61.8,-0.09],[62.15,-0.06],[62.55,-0.03],[63.0,0.0],[63.4,0.02],[63.8,0.06],[64.2,0.09],[64.6,0.12],[65.05,0.14],[65.45,0.14],[65.85,0.16],[66.3,0.19],[66.7,0.25],[67.1,0.26],[67.5,0.31],[67.75,0.5],[68.0,0.40],[68.25,0.24],[68.5,0.21],[68.75,0.34],[69.0,1.1],[69.25,1.1],[69.5,0.47],[69.75,0.27],[70.1,0.24],[70.4,0.22],[70.85,0.21],[71.25,0.19],[71.65,0.16],[72.05,0.17],[72.5,0.21],[72.9,0.14],[73.3,0.11],[73.7,0.09],[74.15,0.12],[74.55,0.21],[74.95,0.27],[75.35,0.31],[75.8,0.32],[76.2,0.31],[76.6,0.21],[77.0,0.14],[77.25,0.31],[77.5,0.17],[77.85,0.14],[78.2,0.21],[78.5,0.17],[78.85,0.16],[79.15,0.21],[79.5,0.32],[79.85,0.27],[80.15,0.22],[80.5,0.31],[80.85,0.47],[81.15,0.74],[81.5,0.80],[81.8,1.1],[82.8,1.1],[83.05,0.47],[83.3,0.21],[83.55,0.34],[83.8,0.67],[84.05,0.34],[84.3,0.21],[84.55,0.27],[84.8,0.24],[85.05,0.19],[85.3,0.22],[85.6,0.31],[85.85,0.80],[86.05,1.1],[86.35,1.1],[86.6,0.47],[86.85,0.27],[87.2,0.31],[87.5,0.29],[87.85,0.24],[88.2,0.19],[88.5,0.14],[88.85,0.11],[89.15,0.07],[89.5,0.14],[89.85,0.16],[90.15,0.12],[90.5,0.09],[90.85,0.11],[91.15,0.14],[91.5,0.15],[91.8,0.09],[92.15,0.04],[92.5,-0.01],[92.8,-0.06],[93.15,-0.10],[93.55,-0.11],[93.95,-0.10],[94.4,-0.08],[94.8,-0.05],[95.2,-0.03],[95.6,0.01],[96.05,0.04],[96.45,0.07],[96.85,0.06],[97.25,0.01],[97.7,-0.06],[98.1,-0.13],[98.5,-0.13],[98.95,-0.09],[99.35,-0.11],[99.75,-0.12],[100,-0.12]];

const lamRight = [[0,-0.19],[0.25,-0.26],[0.6,-0.24],[0.9,-0.21],[1.25,-0.16],[1.5,0.04],[1.75,0.16],[1.9,-0.06],[2.15,-0.18],[2.45,-0.14],[2.9,-0.12],[3.3,-0.13],[3.7,-0.12],[4.1,-0.12],[4.55,-0.11],[4.95,-0.12],[5.35,-0.13],[5.7,0.01],[6.0,0.11],[6.35,0.16],[6.7,0.19],[7.0,0.24],[7.35,0.34],[7.6,0.27],[7.85,0.17],[8.15,0.07],[8.5,-0.03],[8.8,-0.11],[9.15,-0.12],[9.5,-0.09],[9.8,-0.12],[10.15,-0.06],[10.4,-0.01],[10.65,-0.06],[10.95,-0.01],[11.3,-0.02],[11.6,-0.06],[11.95,-0.07],[12.3,-0.05],[12.6,-0.06],[13.05,-0.05],[13.45,-0.04],[13.85,-0.05],[14.25,-0.04],[14.7,-0.03],[15.1,-0.04],[15.5,-0.04],[15.9,-0.03],[16.3,-0.02],[16.75,-0.01],[17.15,0.0],[17.55,0.01],[17.95,0.02],[18.4,0.03],[18.8,0.03],[19.2,0.02],[19.6,0.02],[20.05,0.01],[20.45,-0.01],[20.85,-0.03],[21.25,-0.03],[21.7,-0.05],[22.1,-0.06],[22.5,-0.07],[23.35,-0.07],[24.15,-0.06],[25.0,-0.05],[25.8,-0.05],[26.65,-0.05],[27.45,-0.05],[28.3,-0.05],[29.1,-0.06],[29.5,-0.04],[29.95,-0.03],[30.35,-0.02],[30.75,0.0],[31.15,0.01],[31.55,0.01],[32.0,0.0],[32.4,-0.02],[32.8,-0.03],[33.2,-0.04],[34.05,-0.05],[34.85,-0.05],[35.7,-0.04],[36.5,-0.04],[37.35,-0.05],[38.15,-0.04],[39.0,-0.05],[39.8,-0.04],[40.65,-0.04],[41.45,-0.04],[42.3,-0.04],[43.1,-0.03],[43.95,-0.03],[44.75,-0.03],[45.6,-0.03],[46.4,-0.03],[47.25,-0.03],[48.05,-0.03],[48.9,-0.04],[49.3,-0.04],[49.7,-0.02],[50.1,-0.03],[50.55,-0.03],[51.35,-0.04],[52.2,-0.03],[53.0,-0.03],[53.85,-0.03],[54.65,-0.03],[55.5,-0.02],[55.9,-0.01],[56.3,-0.01],[56.7,-0.03],[57.15,-0.03],[57.95,-0.04],[58.8,-0.03],[59.6,-0.04],[60.45,-0.03],[61.25,-0.03],[62.1,-0.03],[62.9,-0.03],[63.75,-0.03],[64.55,-0.03],[65.4,-0.03],[66.2,-0.03],[66.6,-0.03],[66.85,0.01],[67.1,0.17],[67.35,0.26],[67.6,0.22],[67.85,0.01],[68.1,-0.09],[68.35,-0.08],[68.65,-0.04],[68.9,-0.08],[69.15,-0.04],[69.5,-0.03],[69.9,-0.02],[70.3,0.01],[70.55,-0.01],[70.8,-0.03],[71.15,-0.04],[71.95,-0.03],[72.8,-0.04],[73.6,-0.04],[74.45,-0.03],[75.25,-0.03],[76.1,-0.03],[76.9,-0.03],[77.75,-0.03],[78.55,-0.02],[79.4,-0.01],[80.2,-0.01],[81.05,0.0],[81.85,0.01],[82.3,-0.01],[82.7,-0.04],[83.1,-0.07],[83.5,-0.07],[84.35,-0.07],[85.15,-0.07],[85.55,-0.07],[86.0,-0.06],[86.4,-0.03],[86.8,0.01],[87.2,0.06],[87.65,0.08],[88.05,0.07],[88.45,0.11],[88.85,0.17],[89.1,0.14],[89.3,0.02],[89.55,0.01],[89.8,-0.04],[90.1,-0.03],[90.35,-0.06],[90.6,-0.09],[90.85,-0.13],[91.1,-0.11],[91.35,-0.06],[91.6,0.04],[91.9,0.14],[92.15,0.21],[92.4,0.27],[92.65,0.29],[92.9,0.40],[93.15,0.64],[93.4,0.47],[93.65,0.17],[93.9,-0.06],[94.25,-0.08],[95.05,-0.08],[95.9,-0.08],[96.3,-0.06],[96.7,-0.01],[97.1,0.06],[97.55,0.09],[97.85,0.11],[98.1,0.04],[98.35,-0.26],[98.6,-0.66],[98.75,-0.9],[98.95,-0.66],[99.1,-0.03],[99.25,0.80],[99.4,1.1],[99.65,1.1],[99.85,0.14],[100,0.14]];

const FONT = '"Liberation Serif","Times New Roman",serif';
const panelDefs = [
  {name:'stock price', left:stockLeft, right:stockRight, min:181, max:188, interval:1, top:13, height:201, labelY:186},
  {name:'A(t)', left:aLeft, right:aRight, min:0, max:10, interval:2, top:247, height:202, labelY:280},
  {name:'B(t)', left:bLeft, right:bRight, min:-5, max:5, custom:bTickValues, top:483, height:201, labelY:654},
  {name:'C(t)', left:cLeft, right:cRight, min:-2, max:2, interval:0.5, top:718, height:202, labelY:897},
  {name:'{i|λ}(t)', left:lamLeft, right:lamRight, min:-1, max:1, interval:0.5, top:953, height:201, labelY:1131, zero:true}
];
const cols = [{left:49, labelX:80, showY:true},{left:476, labelX:507, showY:false}];

const grid=[], xAxis=[], yAxis=[], series=[], graphic=[];
const axLine = {show:true, onZero:false, lineStyle:{color:'#000', width:1}};
const italicRich = {i:{fontStyle:'italic', fontSize:23, fontFamily:FONT, color:'#000'}};
panelDefs.forEach((p, pi) => {
  cols.forEach((c, ci) => {
    const g = grid.length;
    grid.push({left:c.left, top:p.top, width:404, height:p.height});
    const tick = {show:true, inside:true, length:9, lineStyle:{color:'#000', width:1}};
    const xb = {gridIndex:g, type:'value', min:0, max:100, interval:25, axisLine:axLine, axisTick:tick, splitLine:{show:false}};
    xAxis.push(Object.assign({}, xb, {position:'bottom', axisLabel:{show: pi===4, margin:12, color:'#000', fontFamily:FONT, fontSize:23, showMinLabel:true, showMaxLabel:true, rich:italicRich, formatter:(v)=>xTickLabels[Math.round(v/25)]}}));
    xAxis.push(Object.assign({}, xb, {position:'top', axisLabel:{show:false}}));
    const ytick = Object.assign({}, tick);
    const ylab = {show:c.showY, margin:10, color:'#000', fontFamily:FONT, fontSize:23, showMinLabel:true, showMaxLabel:true};
    const yb = {gridIndex:g, type:'value', min:p.min, max:p.max, axisLine:axLine, splitLine:{show:false}};
    if (p.custom) { ytick.customValues = p.custom; ylab.customValues = p.custom; } else { yb.interval = p.interval; }
    yb.axisTick = ytick;
    yAxis.push(Object.assign({}, yb, {position:'left', axisLabel:ylab}));
    yAxis.push(Object.assign({}, yb, {position:'right', axisLabel:{show:false}}));
    const s = {type:'line', xAxisIndex:2*g, yAxisIndex:2*g, data: ci===0 ? p.left : p.right,
      symbol:'none', showSymbol:false, lineStyle:{color:'#000', width:1.4}, clip:true, silent:true, animation:false};
    if (p.zero) {
      s.markLine = {silent:true, symbol:['none','none'], label:{show:false}, animation:false,
        lineStyle:{type:[1,6], color:'#777', width:1}, data:[{yAxis:0}]};
    }
    series.push(s);
    graphic.push({type:'text', x:c.labelX, y:p.labelY, silent:true,
      style:{text:p.name, fill:'#000', fontSize:25, fontFamily:FONT, verticalAlign:'middle', align:'left',
        rich:{i:{fontStyle:'italic', fontSize:25, fontFamily:FONT, fill:'#000'}}}});
  });
});

const chart = echarts.init(document.getElementById('c'), null, {renderer:'canvas'});
chart.setOption({animation:false, backgroundColor:'#fff', textStyle:{fontFamily:FONT}, grid, xAxis, yAxis, series, graphic});
</script>
</body></html>
